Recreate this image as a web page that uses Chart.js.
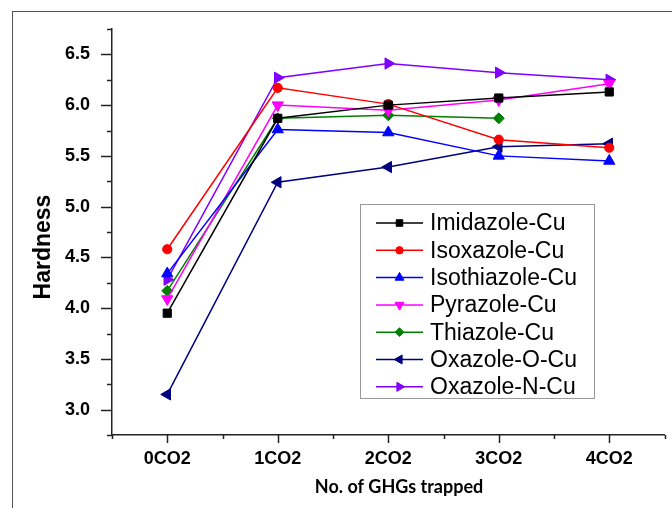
<!DOCTYPE html>
<html>
<head>
<meta charset="utf-8">
<style>
    body { margin: 0; background: #fff; }
    .chart-container { position: relative; width: 672px; height: 508px; overflow: hidden; }
    .frame { position: absolute; left: 12px; top: 11px; width: 700px; height: 540px;
             border-left: 1.5px solid #555; border-top: 1.5px solid #555; pointer-events: none; }
    canvas { position: absolute; left: 0; top: 0; }
</style>
</head>
<body>
<div class="chart-container">
    <canvas id="myChart" width="672" height="508"></canvas>
    <div class="frame"></div>
</div>

<script src="https://cdn.jsdelivr.net/npm/chart.js"></script>

<script>

    // categories on the x axis
    const categories = ['0CO2', '1CO2', '2CO2', '3CO2', '4CO2'];

    // hardness values, one array per complex
    const imidazoleCu   = [3.95, 5.87, 6.00, 6.07, 6.13];
    const isoxazoleCu   = [4.58, 6.17, 6.01, 5.66, 5.58];
    const isothiazoleCu = [4.34, 5.76, 5.73, 5.50, 5.45];
    const pyrazoleCu    = [4.09, 6.00, 5.95, 6.05, 6.21];
    const thiazoleCu    = [4.17, 5.87, 5.90, 5.87, null];
    const oxazoleOCu    = [3.15, 5.24, 5.39, 5.59, 5.62];
    const oxazoleNCu    = [4.28, 6.27, 6.41, 6.32, 6.25];

    const yTicks = [3.0, 3.5, 4.0, 4.5, 5.0, 5.5, 6.0, 6.5];

    const toPoints = arr => arr.map((y, i) => ({ x: i, y: y }));

    function series(label, values, color, style, rotation, radius) {
        return {
            label: label,
            data: toPoints(values),
            borderColor: color,
            backgroundColor: color,
            pointBackgroundColor: color,
            pointBorderColor: color,
            borderWidth: 1.5,
            pointBorderWidth: 1,
            pointStyle: style,
            rotation: rotation,
            pointRadius: radius,
            tension: 0
        };
    }

    const datasets = [
        series('Imidazole-Cu', imidazoleCu, '#000000', 'rect', 0, 5.8),
        series('Isoxazole-Cu', isoxazoleCu, '#ff0000', 'circle', 0, 4.6),
        series('Isothiazole-Cu', isothiazoleCu, '#0000ff', 'triangle', 0, 6.5),
        series('Pyrazole-Cu', pyrazoleCu, '#ff00ff', 'triangle', 180, 6.5),
        series('Thiazole-Cu', thiazoleCu, '#008000', 'rectRot', 0, 5.5),
        series('Oxazole-O-Cu', oxazoleOCu, '#000080', 'triangle', 270, 6.5),
        series('Oxazole-N-Cu', oxazoleNCu, '#8000ff', 'triangle', 90, 6.5)
    ];

    const axisColor = '#222';

    // tick marks: long at labelled values, short in between
    const tickMarks = {
        id: 'tickMarks',
        afterDraw(chart) {
            const c = chart.ctx;
            const xs = chart.scales.x, ys = chart.scales.y;
            c.save();
            c.strokeStyle = axisColor;
            c.lineWidth = 1.5;
            ys.ticks.forEach(t => {
                const py = Math.round(ys.getPixelForValue(t.value)) + 0.5;
                const major = yTicks.includes(t.value);
                c.beginPath();
                c.moveTo(ys.right, py);
                c.lineTo(ys.right - (major ? 11 : 5), py);
                c.stroke();
            });
            xs.ticks.forEach(t => {
                const px = Math.round(xs.getPixelForValue(t.value)) + 0.5;
                const major = Number.isInteger(t.value);
                c.beginPath();
                c.moveTo(px, xs.top);
                c.lineTo(px, xs.top + (major ? 8 : 4));
                c.stroke();
            });
            c.restore();
        }
    };

    // axis titles
    const axisTitles = {
        id: 'axisTitles',
        afterDraw(chart) {
            const c = chart.ctx;
            c.save();
            c.fillStyle = '#000';
            c.font = 'bold 18px Lato, "Liberation Sans", sans-serif';
            c.textAlign = 'center';
            c.textBaseline = 'alphabetic';
            c.fillText('No. of GHGs trapped', 399, 493);
            c.translate(44, 247);
            c.rotate(-Math.PI / 2);
            c.font = 'bold 23px "Liberation Sans", Arial, sans-serif';
            c.textBaseline = 'middle';
            c.fillText('Hardness', 0, 0);
            c.restore();
        }
    };

    // boxed legend inside the plot, line + marker samples
    const boxLegend = {
        id: 'boxLegend',
        afterDraw(chart) {
            const c = chart.ctx;
            const box = { left: 360, top: 204, right: 594, bottom: 398 };
            c.save();
            c.strokeStyle = '#999';
            c.lineWidth = 1;
            c.strokeRect(box.left + 0.5, box.top + 0.5, box.right - box.left, box.bottom - box.top);
            c.font = '23px "Liberation Sans", Arial, sans-serif';
            c.textBaseline = 'middle';
            c.textAlign = 'left';
            chart.data.datasets.forEach((ds, i) => {
                const y = 223 + i * 27.3;
                c.strokeStyle = ds.borderColor;
                c.lineWidth = 1.5;
                c.beginPath();
                c.moveTo(376, y);
                c.lineTo(423, y);
                c.stroke();
                c.fillStyle = ds.pointBackgroundColor;
                c.strokeStyle = ds.pointBorderColor;
                c.lineWidth = 1;
                Chart.helpers.drawPoint(c, {
                    pointStyle: ds.pointStyle,
                    rotation: ds.rotation,
                    radius: ds.pointRadius * 0.8,
                    borderWidth: 1
                }, 399.5, y);
                c.fillStyle = '#000';
                c.fillText(ds.label, 430, y + 1);
            });
            c.restore();
        }
    };

    const ctx = document.getElementById('myChart').getContext('2d');

    new Chart(ctx, {
        type: 'line',
        data: { datasets: datasets },
        options: {
            responsive: false,
            animation: false,
            devicePixelRatio: 1,
            layout: { padding: { left: 0, top: 29, right: 7, bottom: 0 } },
            plugins: {
                legend: { display: false },
                tooltip: { enabled: false }
            },
            scales: {
                x: {
                    type: 'linear',
                    min: -0.5,
                    max: 4.5,
                    afterFit: s => { s.height = 73; },
                    grid: { display: false },
                    border: { display: true, color: axisColor, width: 1.5 },
                    ticks: {
                        stepSize: 0.5,
                        autoSkip: false,
                        maxRotation: 0,
                        padding: 5,
                        color: '#000',
                        font: { family: '"Liberation Sans", Arial, sans-serif', size: 18, weight: 'bold' },
                        callback: v => Number.isInteger(v) ? categories[v] : ''
                    }
                },
                y: {
                    min: 2.75,
                    max: 6.75,
                    afterFit: s => { s.width = 112; },
                    grid: { display: false },
                    border: { display: true, color: axisColor, width: 1.5 },
                    ticks: {
                        stepSize: 0.25,
                        autoSkip: false,
                        padding: 14,
                        color: '#000',
                        font: { family: '"Liberation Sans", Arial, sans-serif', size: 18, weight: 'bold' },
                        callback: v => yTicks.includes(v) ? v.toFixed(1) : ''
                    }
                }
            }
        },
        plugins: [tickMarks, axisTitles, boxLegend]
    });

</script>
</body>
</html>
